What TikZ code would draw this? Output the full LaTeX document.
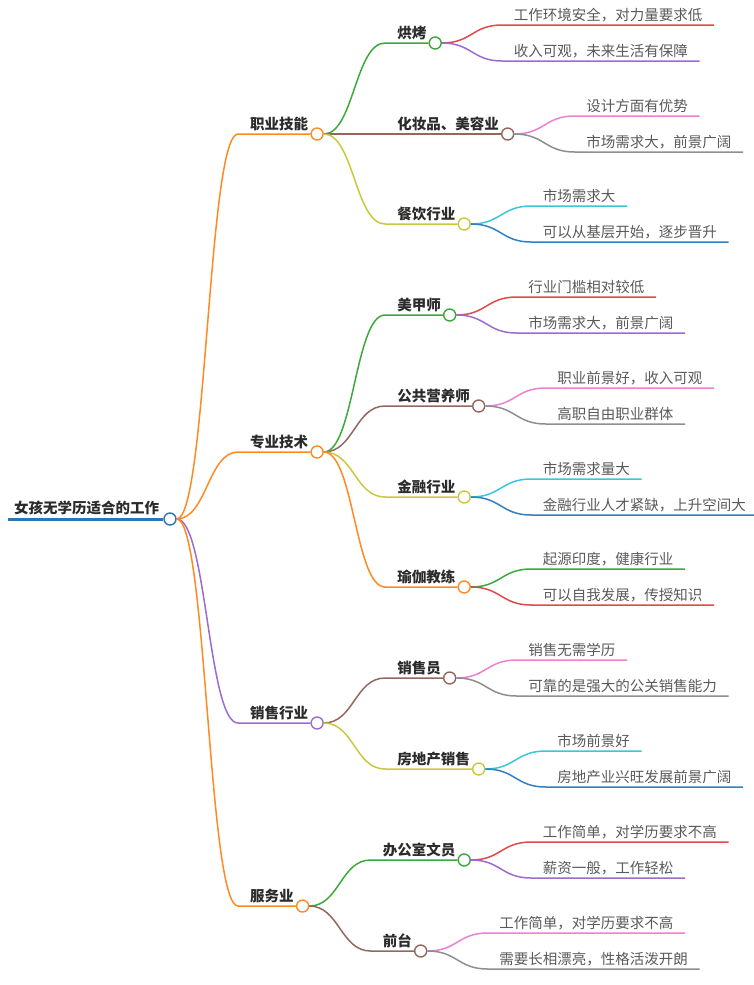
\documentclass[tikz,border=0pt]{standalone}
\usepackage{fontspec}
\setmainfont{Noto Sans CJK SC}
\usetikzlibrary{positioning, calc}
\definecolor{Korijen}{HTML}{2E75B6}
\definecolor{Cheng}{HTML}{FF8A22}
\definecolor{Zi}{HTML}{9B6BCF}
\definecolor{Lv}{HTML}{3BA93B}
\definecolor{Zong}{HTML}{93675C}
\definecolor{Ganlan}{HTML}{C9C83C}
\definecolor{Hong}{HTML}{E14A4A}
\definecolor{Fen}{HTML}{EE80D2}
\definecolor{Hui}{HTML}{8E8E8E}
\definecolor{Qing}{HTML}{3BC6DC}
\definecolor{Lan}{HTML}{2F80C2}
\definecolor{Wenzi}{HTML}{2B2B2B}
\definecolor{Yezi}{HTML}{595959}
\newcommand\zihao{\fontsize{14.5}{17}\selectfont}
\tikzset{
  zhi/.style     = {line width=1.5pt,
                    to path={.. controls +(30,0) and +(-30,0) .. (\tikztotarget)}},
  jiedian/.style = {circle, draw, fill=white, line width=1.4pt,
                    minimum size=12pt, inner sep=0pt},
  biaoti/.style  = {anchor=south west, inner xsep=0pt, inner ysep=3pt,
                    font=\zihao\bfseries, text=Wenzi},
  ye/.style      = {anchor=south west, inner xsep=11.5pt, inner ysep=3pt,
                    font=\zihao, text=Yezi},
}

\begin{document}
\begin{tikzpicture}[x=1pt, y=-1pt]
  \useasboundingbox (0,0) rectangle (754,985);

  \node[jiedian, draw=Korijen] (root) at (170,519) {};
  \node[biaoti, anchor=south east, inner ysep=4pt] (rootT) at ([xshift=-4pt]root.west) {女孩无学历适合的工作};
  \coordinate (rootL) at (8,519);
  \draw[line width=3pt, Korijen] (rootL) -- (root.west);

  \node[biaoti] (zhiyeT)    at ($(root)+(80,-385)$) {职业技能};
  \node[jiedian, draw=Cheng, right=2pt of zhiyeT.south east]    (zhiye) {};
  \node[biaoti] (zhuanyeT)  at ($(root)+(80,-67)$)  {专业技术};
  \node[jiedian, draw=Cheng, right=2pt of zhuanyeT.south east]  (zhuanye) {};
  \node[biaoti] (xiaoshouT) at ($(root)+(80,204)$)  {销售行业};
  \node[jiedian, draw=Zi, right=2pt of xiaoshouT.south east]    (xiaoshou) {};
  \node[biaoti] (fuwuT)     at ($(root)+(80,387)$)  {服务业};
  \node[jiedian, draw=Cheng, right=2pt of fuwuT.south east]     (fuwu) {};

  \draw[zhi, Cheng] (root.east) to ([xshift=-12pt]zhiyeT.south west) -- (zhiye.west);
  \draw[zhi, Cheng] (root.east) to ([xshift=-12pt]zhuanyeT.south west) -- (zhuanye.west);
  \draw[zhi, Zi]    (root.east) to ([xshift=-12pt]xiaoshouT.south west) -- (xiaoshou.west);
  \draw[zhi, Cheng] (root.east) to ([xshift=-12pt]fuwuT.south west) -- (fuwu.west);

  \node[biaoti] (hongkaoT)   at ($(zhiye)+(80,-91)$) {烘烤};
  \node[jiedian, draw=Lv, right=2pt of hongkaoT.south east]       (hongkao) {};
  \node[biaoti] (huazhuangT) at ($(zhiye)+(80,0)$)   {化妆品、美容业};
  \node[jiedian, draw=Zong, right=2pt of huazhuangT.south east]   (huazhuang) {};
  \node[biaoti] (canyinT)    at ($(zhiye)+(80,90)$)  {餐饮行业};
  \node[jiedian, draw=Ganlan, right=2pt of canyinT.south east]    (canyin) {};

  \draw[zhi, Lv]     (zhiye.east) to ([xshift=-12pt]hongkaoT.south west) -- (hongkao.west);
  \draw[zhi, Zong]   (zhiye.east) to ([xshift=-12pt]huazhuangT.south west) -- (huazhuang.west);
  \draw[zhi, Ganlan] (zhiye.east) to ([xshift=-12pt]canyinT.south west) -- (canyin.west);

  \node[biaoti] (meijiaT)    at ($(zhuanye)+(80,-137)$) {美甲师};
  \node[jiedian, draw=Lv, right=2pt of meijiaT.south east]        (meijia) {};
  \node[biaoti] (yingyangT)  at ($(zhuanye)+(80,-46)$)  {公共营养师};
  \node[jiedian, draw=Zong, right=2pt of yingyangT.south east]    (yingyang) {};
  \node[biaoti] (jinrongT)   at ($(zhuanye)+(80,45)$)   {金融行业};
  \node[jiedian, draw=Ganlan, right=2pt of jinrongT.south east]   (jinrong) {};
  \node[biaoti] (yujiaT)     at ($(zhuanye)+(80,135)$)  {瑜伽教练};
  \node[jiedian, draw=Cheng, right=2pt of yujiaT.south east]      (yujia) {};

  \draw[zhi, Lv]     (zhuanye.east) to ([xshift=-12pt]meijiaT.south west) -- (meijia.west);
  \draw[zhi, Zong]   (zhuanye.east) to ([xshift=-12pt]yingyangT.south west) -- (yingyang.west);
  \draw[zhi, Ganlan] (zhuanye.east) to ([xshift=-12pt]jinrongT.south west) -- (jinrong.west);
  \draw[zhi, Cheng]  (zhuanye.east) to ([xshift=-12pt]yujiaT.south west) -- (yujia.west);

  \node[biaoti] (xiaoshouyuanT) at ($(xiaoshou)+(80,-45)$) {销售员};
  \node[jiedian, draw=Zong, right=2pt of xiaoshouyuanT.south east] (xiaoshouyuan) {};
  \node[biaoti] (fangdichanT)   at ($(xiaoshou)+(80,46)$)  {房地产销售};
  \node[jiedian, draw=Ganlan, right=2pt of fangdichanT.south east] (fangdichan) {};

  \draw[zhi, Zong]   (xiaoshou.east) to ([xshift=-12pt]xiaoshouyuanT.south west) -- (xiaoshouyuan.west);
  \draw[zhi, Ganlan] (xiaoshou.east) to ([xshift=-12pt]fangdichanT.south west) -- (fangdichan.west);

  \node[biaoti] (wenyuanT)  at ($(fuwu)+(80,-46)$) {办公室文员};
  \node[jiedian, draw=Lv, right=2pt of wenyuanT.south east]     (wenyuan) {};
  \node[biaoti] (qiantaiT)  at ($(fuwu)+(80,45)$)  {前台};
  \node[jiedian, draw=Zong, right=2pt of qiantaiT.south east]   (qiantai) {};

  \draw[zhi, Lv]   (fuwu.east) to ([xshift=-12pt]wenyuanT.south west) -- (wenyuan.west);
  \draw[zhi, Zong] (fuwu.east) to ([xshift=-12pt]qiantaiT.south west) -- (qiantai.west);

  \node[ye] (hongkao1)   at ($(hongkao)+(67,-18)$)   {工作环境安全，对力量要求低};
  \node[ye] (hongkao2)   at ($(hongkao)+(67,18)$)    {收入可观，未来生活有保障};
  \node[ye] (huazhuang1) at ($(huazhuang)+(67,-18)$) {设计方面有优势};
  \node[ye] (huazhuang2) at ($(huazhuang)+(67,18)$)  {市场需求大，前景广阔};
  \node[ye] (canyin1)    at ($(canyin)+(67,-18)$)    {市场需求大};
  \node[ye] (canyin2)    at ($(canyin)+(67,18)$)     {可以从基层开始，逐步晋升};

  \draw[zhi, Hong] (hongkao.east) to (hongkao1.south west) -- (hongkao1.south east);
  \draw[zhi, Zi]   (hongkao.east) to (hongkao2.south west) -- (hongkao2.south east);
  \draw[zhi, Fen]  (huazhuang.east) to (huazhuang1.south west) -- (huazhuang1.south east);
  \draw[zhi, Hui]  (huazhuang.east) to (huazhuang2.south west) -- (huazhuang2.south east);
  \draw[zhi, Qing] (canyin.east) to (canyin1.south west) -- (canyin1.south east);
  \draw[zhi, Lan]  (canyin.east) to (canyin2.south west) -- (canyin2.south east);

  \node[ye] (meijia1)   at ($(meijia)+(67,-18)$)   {行业门槛相对较低};
  \node[ye] (meijia2)   at ($(meijia)+(67,18)$)    {市场需求大，前景广阔};
  \node[ye] (yingyang1) at ($(yingyang)+(67,-18)$) {职业前景好，收入可观};
  \node[ye] (yingyang2) at ($(yingyang)+(67,18)$)  {高职自由职业群体};
  \node[ye] (jinrong1)  at ($(jinrong)+(67,-18)$)  {市场需求量大};
  \node[ye] (jinrong2)  at ($(jinrong)+(67,18)$)   {金融行业人才紧缺，上升空间大};
  \node[ye] (yujia1)    at ($(yujia)+(67,-18)$)    {起源印度，健康行业};
  \node[ye] (yujia2)    at ($(yujia)+(67,18)$)     {可以自我发展，传授知识};

  \draw[zhi, Hong] (meijia.east) to (meijia1.south west) -- (meijia1.south east);
  \draw[zhi, Zi]   (meijia.east) to (meijia2.south west) -- (meijia2.south east);
  \draw[zhi, Fen]  (yingyang.east) to (yingyang1.south west) -- (yingyang1.south east);
  \draw[zhi, Hui]  (yingyang.east) to (yingyang2.south west) -- (yingyang2.south east);
  \draw[zhi, Qing] (jinrong.east) to (jinrong1.south west) -- (jinrong1.south east);
  \draw[zhi, Lan]  (jinrong.east) to (jinrong2.south west) -- (jinrong2.south east);
  \draw[zhi, Lv]   (yujia.east) to (yujia1.south west) -- (yujia1.south east);
  \draw[zhi, Hong] (yujia.east) to (yujia2.south west) -- (yujia2.south east);

  \node[ye] (xiaoshouyuan1) at ($(xiaoshouyuan)+(67,-18)$) {销售无需学历};
  \node[ye] (xiaoshouyuan2) at ($(xiaoshouyuan)+(67,18)$)  {可靠的是强大的公关销售能力};
  \node[ye] (fangdichan1)   at ($(fangdichan)+(67,-18)$)   {市场前景好};
  \node[ye] (fangdichan2)   at ($(fangdichan)+(67,18)$)    {房地产业兴旺发展前景广阔};

  \draw[zhi, Fen]  (xiaoshouyuan.east) to (xiaoshouyuan1.south west) -- (xiaoshouyuan1.south east);
  \draw[zhi, Hui]  (xiaoshouyuan.east) to (xiaoshouyuan2.south west) -- (xiaoshouyuan2.south east);
  \draw[zhi, Qing] (fangdichan.east) to (fangdichan1.south west) -- (fangdichan1.south east);
  \draw[zhi, Lan]  (fangdichan.east) to (fangdichan2.south west) -- (fangdichan2.south east);

  \node[ye] (wenyuan1) at ($(wenyuan)+(67,-18)$) {工作简单，对学历要求不高};
  \node[ye] (wenyuan2) at ($(wenyuan)+(67,18)$)  {薪资一般，工作轻松};
  \node[ye] (qiantai1) at ($(qiantai)+(67,-18)$) {工作简单，对学历要求不高};
  \node[ye] (qiantai2) at ($(qiantai)+(67,18)$)  {需要长相漂亮，性格活泼开朗};

  \draw[zhi, Hong] (wenyuan.east) to (wenyuan1.south west) -- (wenyuan1.south east);
  \draw[zhi, Zi]   (wenyuan.east) to (wenyuan2.south west) -- (wenyuan2.south east);
  \draw[zhi, Fen]  (qiantai.east) to (qiantai1.south west) -- (qiantai1.south east);
  \draw[zhi, Hui]  (qiantai.east) to (qiantai2.south west) -- (qiantai2.south east);
\end{tikzpicture}
\end{document}
